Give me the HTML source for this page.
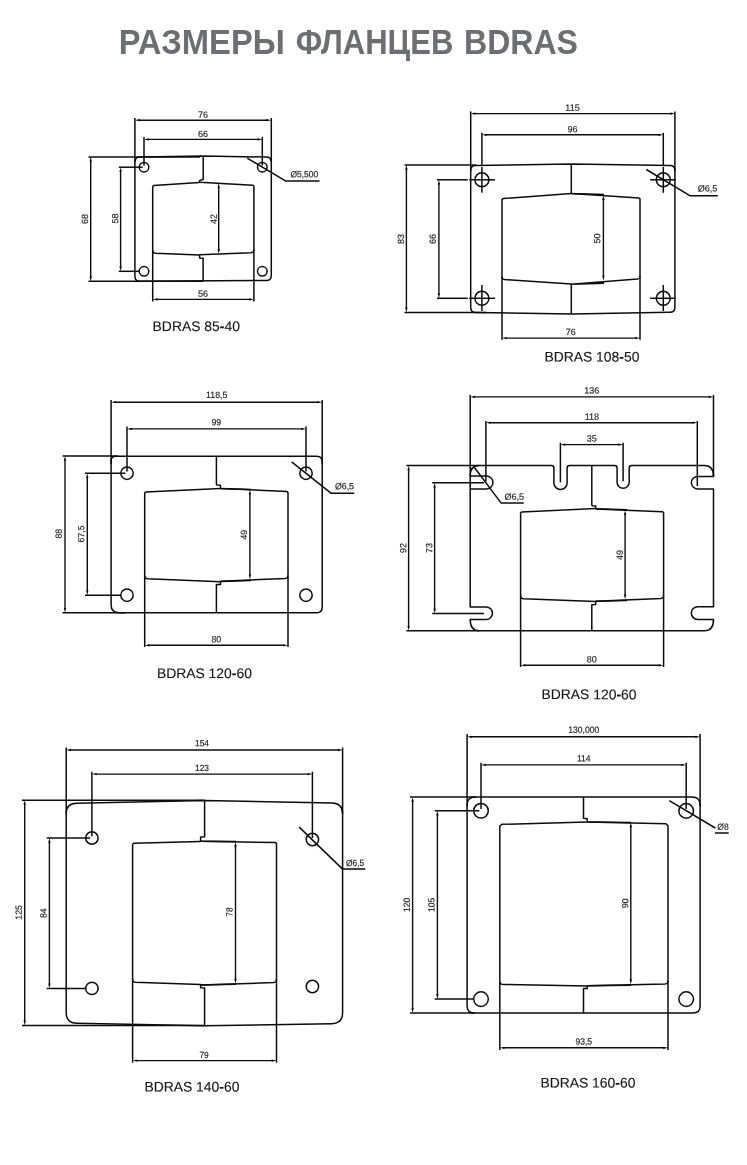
<!DOCTYPE html>
<html lang="ru">
<head>
<meta charset="utf-8">
<title>Размеры фланцев BDRAS</title>
<style>
html,body{margin:0;padding:0;background:#fff;}
body{width:747px;height:1165px;overflow:hidden;font-family:"Liberation Sans",sans-serif;}
svg{display:block;}
svg line,svg path,svg polyline,svg circle{fill:none;stroke:#0c0c0c;stroke-linecap:butt;stroke-linejoin:round;}
svg polygon.a{fill:#0c0c0c;stroke:none;}
svg text{font-family:"Liberation Sans",sans-serif;}
svg{will-change:transform;}
svg text.d{fill:#1c1c1c;stroke:#1c1c1c;stroke-width:0.15;}
svg text.l{fill:#141414;stroke:#141414;stroke-width:0.12;}
svg text.t{fill:#6d6e71;font-weight:bold;}
</style>
</head>
<body>
<svg width="747" height="1165" viewBox="0 0 747 1165">
<rect x="0" y="0" width="747" height="1165" fill="#ffffff" stroke="none"/>
<text class="t" y="54.2" font-size="35.4"><tspan x="118.8" textLength="166" lengthAdjust="spacingAndGlyphs">РАЗМЕРЫ</tspan> <tspan x="295.8" textLength="157.5" lengthAdjust="spacingAndGlyphs">ФЛАНЦЕВ</tspan> <tspan x="464" textLength="114" lengthAdjust="spacingAndGlyphs">BDRAS</tspan></text>
<g id="d1">
<path d="M134.9,162 Q134.9,156.9 140,156.9 L203.2,155.9 L266.3,157.1 Q271.3,157.1 271.3,162.1 L271.3,275.4 Q271.3,280.4 266.3,280.4 L140,281.3 Q134.9,281.3 134.9,276.3 Z" stroke-width="1.5"/>
<line x1="134.9" y1="118" x2="134.9" y2="162" stroke-width="1.5"/>
<line x1="271.3" y1="118" x2="271.3" y2="162" stroke-width="1.5"/>
<line x1="88.5" y1="156.9" x2="200" y2="156.9" stroke-width="1.5"/>
<line x1="88.5" y1="281.3" x2="203" y2="281.3" stroke-width="1.5"/>
<circle cx="144.0" cy="167.2" r="4.8" stroke-width="1.5"/>
<circle cx="262.3" cy="167.2" r="4.8" stroke-width="1.5"/>
<circle cx="144.0" cy="271.3" r="4.8" stroke-width="1.5"/>
<circle cx="262.3" cy="271.3" r="4.8" stroke-width="1.5"/>
<line x1="144.0" y1="137" x2="144.0" y2="165.6" stroke-width="1.5"/>
<line x1="262.3" y1="137" x2="262.3" y2="165.6" stroke-width="1.5"/>
<line x1="118.8" y1="167.2" x2="142.7" y2="167.2" stroke-width="1.5"/>
<line x1="118.8" y1="271.3" x2="139.4" y2="271.3" stroke-width="1.5"/>
<line x1="138.26000000000002" y1="120.2" x2="267.94" y2="120.2" stroke-width="1.4"/>
<polygon class="a" points="134.9,120.2 139.70,119.05 139.70,121.35"/>
<polygon class="a" points="271.3,120.2 266.50,121.35 266.50,119.05"/>
<line x1="147.36" y1="139.4" x2="258.94" y2="139.4" stroke-width="1.4"/>
<polygon class="a" points="144.0,139.4 148.80,138.25 148.80,140.55"/>
<polygon class="a" points="262.3,139.4 257.50,140.55 257.50,138.25"/>
<line x1="90.7" y1="160.16000000000003" x2="90.7" y2="277.94" stroke-width="1.4"/>
<polygon class="a" points="90.7,156.8 91.85,161.60 89.55,161.60"/>
<polygon class="a" points="90.7,281.3 89.55,276.50 91.85,276.50"/>
<line x1="120.6" y1="170.56" x2="120.6" y2="267.94" stroke-width="1.4"/>
<polygon class="a" points="120.6,167.2 121.75,172.00 119.45,172.00"/>
<polygon class="a" points="120.6,271.3 119.45,266.50 121.75,266.50"/>
<polyline points="152.7,301.4 152.7,186.5 153.7,185.5 199.5,182.4" stroke-width="1.5"/>
<polyline points="203.2,155.9 203.2,179.4 199.5,180.8 199.5,182.2 252.9,185.3 253.9,186.3 253.9,301.4" stroke-width="1.5"/>
<polyline points="152.7,250.2 153.2,252.6 155.3,253.28 199.6,255.1 199.6,258.0 203.1,258.2 203.1,281.2" stroke-width="1.5"/>
<polyline points="253.9,249.6 253.4,252.0 251.3,252.68 199.6,254.7" stroke-width="1.5"/>
<line x1="218.7" y1="186.66000000000003" x2="218.7" y2="250.44" stroke-width="1.4"/>
<polygon class="a" points="218.7,183.3 219.85,188.10 217.55,188.10"/>
<polygon class="a" points="218.7,253.8 217.55,249.00 219.85,249.00"/>
<line x1="156.06" y1="299.4" x2="250.54" y2="299.4" stroke-width="1.4"/>
<polygon class="a" points="152.7,299.4 157.50,298.25 157.50,300.55"/>
<polygon class="a" points="253.9,299.4 249.10,300.55 249.10,298.25"/>
<polyline points="247.2,158.2 285.4,180.9 319.5,180.9" stroke-width="1.5"/>
<text class="d" font-size="9.0" text-anchor="middle" transform="translate(203,117.7) rotate(0.04) scale(1.0,1)">76</text>
<text class="d" font-size="9.0" text-anchor="middle" transform="translate(203,136.9) rotate(0.04) scale(1.0,1)">66</text>
<text class="d" font-size="9.0" text-anchor="middle" transform="translate(203.1,296.8) rotate(0.04) scale(1.0,1)">56</text>
<text class="d" font-size="9.0" text-anchor="middle" transform="translate(84.70,219) rotate(-90.04) scale(1.0,1)" dy="0.36em">68</text>
<text class="d" font-size="9.0" text-anchor="middle" transform="translate(114.90,218.5) rotate(-90.04) scale(1.0,1)" dy="0.36em">58</text>
<text class="d" font-size="9.0" text-anchor="middle" transform="translate(213.40,218.9) rotate(-90.04) scale(1.0,1)" dy="0.36em">42</text>
<text class="d" font-size="9.0" text-anchor="start" transform="translate(290.4,177.3) rotate(0.04) scale(0.945,1)">Ø5,500</text>
<text class="l" font-size="13.9" transform="translate(152.6,331.0) rotate(0.03)">BDRAS 85<tspan font-weight="bold">-</tspan>40</text>
</g>
<g id="d2">
<path d="M470.7,170.4 Q470.7,165.4 475.7,165.4 L571.3,164.1 L669.9,165.4 Q674.9,165.4 674.9,170.4 L674.9,307.3 Q674.9,312.3 669.9,312.3 L571.3,314 L475.7,312.4 Q470.7,312.4 470.7,307.4 Z" stroke-width="1.5"/>
<line x1="470.7" y1="111.4" x2="470.7" y2="171" stroke-width="1.5"/>
<line x1="674.9" y1="111.4" x2="674.9" y2="171" stroke-width="1.5"/>
<line x1="404.5" y1="164.9" x2="476" y2="164.9" stroke-width="1.5"/>
<line x1="404.5" y1="312.4" x2="486" y2="312.4" stroke-width="1.5"/>
<circle cx="481.9" cy="179.8" r="7.0" stroke-width="1.5"/>
<circle cx="663.3" cy="179.8" r="7.0" stroke-width="1.5"/>
<circle cx="481.9" cy="298.3" r="7.0" stroke-width="1.5"/>
<circle cx="663.3" cy="298.3" r="7.0" stroke-width="1.5"/>
<line x1="481.9" y1="132.8" x2="481.9" y2="164.8" stroke-width="1.5"/>
<line x1="663.3" y1="132.8" x2="663.3" y2="165.2" stroke-width="1.5"/>
<line x1="481.9" y1="167" x2="481.9" y2="192.7" stroke-width="1.5"/>
<line x1="663.3" y1="167" x2="663.3" y2="192.8" stroke-width="1.5"/>
<line x1="481.9" y1="285" x2="481.9" y2="311" stroke-width="1.5"/>
<line x1="663.3" y1="285" x2="663.3" y2="311" stroke-width="1.5"/>
<line x1="437" y1="179.8" x2="467.8" y2="179.8" stroke-width="1.5"/>
<line x1="469.2" y1="179.8" x2="495.1" y2="179.8" stroke-width="1.5"/>
<line x1="437" y1="298.3" x2="467.8" y2="298.3" stroke-width="1.5"/>
<line x1="469.2" y1="298.3" x2="495.1" y2="298.3" stroke-width="1.5"/>
<line x1="650.1" y1="179.8" x2="675.8" y2="179.8" stroke-width="1.5"/>
<line x1="650.1" y1="298.3" x2="675.8" y2="298.3" stroke-width="1.5"/>
<line x1="474.06" y1="113.6" x2="671.54" y2="113.6" stroke-width="1.4"/>
<polygon class="a" points="470.7,113.6 475.50,112.45 475.50,114.75"/>
<polygon class="a" points="674.9,113.6 670.10,114.75 670.10,112.45"/>
<line x1="485.26" y1="134.8" x2="659.9399999999999" y2="134.8" stroke-width="1.4"/>
<polygon class="a" points="481.9,134.8 486.70,133.65 486.70,135.95"/>
<polygon class="a" points="663.3,134.8 658.50,135.95 658.50,133.65"/>
<line x1="406.4" y1="168.26000000000002" x2="406.4" y2="309.03999999999996" stroke-width="1.4"/>
<polygon class="a" points="406.4,164.9 407.55,169.70 405.25,169.70"/>
<polygon class="a" points="406.4,312.4 405.25,307.60 407.55,307.60"/>
<line x1="438.9" y1="183.16000000000003" x2="438.9" y2="294.94" stroke-width="1.4"/>
<polygon class="a" points="438.9,179.8 440.05,184.60 437.75,184.60"/>
<polygon class="a" points="438.9,298.3 437.75,293.50 440.05,293.50"/>
<polyline points="502,339.8 502,199.6 503,198.6 571.3,193.5" stroke-width="1.5"/>
<polyline points="571.3,164.1 571.3,193.6 604,194.4" stroke-width="1.5"/>
<polyline points="571.3,193.5 639,198 640,199 640,339.8" stroke-width="1.5"/>
<polyline points="502,276.5 502.5,278.9 504.6,279.58 571.3,283.9 571.3,314" stroke-width="1.5"/>
<polyline points="640,276.0 639.5,278.4 637.4,279.08 571.3,284.2 604,283.2" stroke-width="1.5"/>
<line x1="603.4" y1="198.56" x2="603.4" y2="277.24" stroke-width="1.4"/>
<polygon class="a" points="603.4,195.2 604.55,200.00 602.25,200.00"/>
<polygon class="a" points="603.4,280.6 602.25,275.80 604.55,275.80"/>
<line x1="505.36" y1="338.1" x2="636.64" y2="338.1" stroke-width="1.4"/>
<polygon class="a" points="502,338.1 506.80,336.95 506.80,339.25"/>
<polygon class="a" points="640,338.1 635.20,339.25 635.20,336.95"/>
<polyline points="646.3,169.5 689.8,195.7 717.8,195.7" stroke-width="1.5"/>
<text class="d" font-size="9.0" text-anchor="middle" transform="translate(572.5,110.7) rotate(0.04) scale(1.0,1)">115</text>
<text class="d" font-size="9.0" text-anchor="middle" transform="translate(572.5,132.3) rotate(0.04) scale(1.0,1)">96</text>
<text class="d" font-size="9.0" text-anchor="middle" transform="translate(570.8,334.9) rotate(0.04) scale(1.0,1)">76</text>
<text class="d" font-size="9.0" text-anchor="middle" transform="translate(400.70,238.9) rotate(-90.04) scale(1.0,1)" dy="0.36em">83</text>
<text class="d" font-size="9.0" text-anchor="middle" transform="translate(432.60,238.9) rotate(-90.04) scale(1.0,1)" dy="0.36em">66</text>
<text class="d" font-size="9.0" text-anchor="middle" transform="translate(597.00,238.4) rotate(-90.04) scale(1.0,1)" dy="0.36em">50</text>
<text class="d" font-size="9.0" text-anchor="start" transform="translate(697.8,191.4) rotate(0.04) scale(1.0,1)">Ø6,5</text>
<text class="l" font-size="13.9" transform="translate(544.4,361.5) rotate(0.03)">BDRAS 108<tspan font-weight="bold">-</tspan>50</text>
</g>
<g id="d3">
<path d="M111.1,460.9 Q111.1,456.2 115.8,456.2 L316.7,456.3 Q322.2,456.3 322.2,461.8 L322.2,607.3 Q322.2,612.8 316.7,612.8 L119.1,612.8 Q111.1,612.8 111.1,604.8 Z" stroke-width="1.5"/>
<line x1="111.1" y1="400" x2="111.1" y2="464" stroke-width="1.5"/>
<line x1="322.2" y1="400" x2="322.2" y2="464" stroke-width="1.5"/>
<line x1="62.5" y1="456.0" x2="118" y2="456.0" stroke-width="1.5"/>
<line x1="62.5" y1="612.8" x2="125" y2="612.8" stroke-width="1.5"/>
<circle cx="127.0" cy="473.2" r="6.2" stroke-width="1.5"/>
<circle cx="306" cy="473.2" r="6.2" stroke-width="1.5"/>
<circle cx="127.0" cy="595.2" r="6.2" stroke-width="1.5"/>
<circle cx="306" cy="595.2" r="6.2" stroke-width="1.5"/>
<line x1="127.0" y1="426.5" x2="127.0" y2="471.5" stroke-width="1.5"/>
<line x1="306" y1="426.5" x2="306" y2="471.5" stroke-width="1.5"/>
<line x1="85.0" y1="473.2" x2="125.4" y2="473.2" stroke-width="1.5"/>
<line x1="85.0" y1="595.2" x2="121" y2="595.2" stroke-width="1.5"/>
<line x1="114.46" y1="402.2" x2="318.84" y2="402.2" stroke-width="1.4"/>
<polygon class="a" points="111.1,402.2 115.90,401.05 115.90,403.35"/>
<polygon class="a" points="322.2,402.2 317.40,403.35 317.40,401.05"/>
<line x1="130.36" y1="428.9" x2="302.64" y2="428.9" stroke-width="1.4"/>
<polygon class="a" points="127.0,428.9 131.80,427.75 131.80,430.05"/>
<polygon class="a" points="306,428.9 301.20,430.05 301.20,427.75"/>
<line x1="65" y1="459.36" x2="65" y2="609.4399999999999" stroke-width="1.4"/>
<polygon class="a" points="65,456.0 66.15,460.80 63.85,460.80"/>
<polygon class="a" points="65,612.8 63.85,608.00 66.15,608.00"/>
<line x1="87.3" y1="476.56" x2="87.3" y2="591.84" stroke-width="1.4"/>
<polygon class="a" points="87.3,473.2 88.45,478.00 86.15,478.00"/>
<polygon class="a" points="87.3,595.2 86.15,590.40 88.45,590.40"/>
<polyline points="144.7,647 144.7,493 145.7,492 220.5,488.6" stroke-width="1.5"/>
<polyline points="216.4,456.4 216.4,484.3 217,485 220.5,485.2 220.5,488.4 287,491.6 288,492.6 288,647" stroke-width="1.5"/>
<polyline points="220.5,488.6 251,489.4" stroke-width="1.5"/>
<polyline points="144.7,575.6 145.2,578.0 147.3,578.68 220.5,581.8 220.5,584.4 216.4,584.6 216.4,612.8" stroke-width="1.5"/>
<polyline points="288,575.3 287.5,577.7 285.4,578.38 220.5,581.2" stroke-width="1.5"/>
<polyline points="220.5,581.4 251,580.4" stroke-width="1.5"/>
<line x1="249.9" y1="493.16" x2="249.9" y2="576.04" stroke-width="1.4"/>
<polygon class="a" points="249.9,489.8 251.05,494.60 248.75,494.60"/>
<polygon class="a" points="249.9,579.4 248.75,574.60 251.05,574.60"/>
<line x1="148.06" y1="645.3" x2="284.64" y2="645.3" stroke-width="1.4"/>
<polygon class="a" points="144.7,645.3 149.50,644.15 149.50,646.45"/>
<polygon class="a" points="288,645.3 283.20,646.45 283.20,644.15"/>
<polyline points="291.6,461.9 331.3,493.3 354.2,493.3" stroke-width="1.5"/>
<text class="d" font-size="9.0" text-anchor="middle" transform="translate(216.7,398) rotate(0.04) scale(0.98,1)">118,5</text>
<text class="d" font-size="9.0" text-anchor="middle" transform="translate(216.3,425.3) rotate(0.04) scale(0.98,1)">99</text>
<text class="d" font-size="9.0" text-anchor="middle" transform="translate(216.3,642.2) rotate(0.04) scale(0.98,1)">80</text>
<text class="d" font-size="9.0" text-anchor="middle" transform="translate(58.60,533.7) rotate(-90.04) scale(0.98,1)" dy="0.36em">88</text>
<text class="d" font-size="9.0" text-anchor="middle" transform="translate(81.00,534) rotate(-90.04) scale(0.98,1)" dy="0.36em">67,5</text>
<text class="d" font-size="9.0" text-anchor="middle" transform="translate(243.80,534.7) rotate(-90.04) scale(0.98,1)" dy="0.36em">49</text>
<text class="d" font-size="9.0" text-anchor="start" transform="translate(334.9,489.2) rotate(0.04) scale(0.98,1)">Ø6,5</text>
<text class="l" font-size="13.9" transform="translate(156.9,677.9) rotate(0.03)">BDRAS 120<tspan font-weight="bold">-</tspan>60</text>
</g>
<g id="d4">
<path d="M470.2,476.1 Q470.2,465.8 478,465.8 L479,465.5 L551.4,465.5 Q553.9,465.5 553.9,468 L553.9,483 A6.6,6.6 0 0 0 567.1,483 L567.1,468 Q567.1,465.5 569.6,465.5 L614.6,465.5 Q617.1,465.5 617.1,468 L617.1,482.3 A6.05,6.05 0 0 0 629.2,482.3 L629.2,468 Q629.2,465.5 631.7,465.5 L704.6,465.5 Q713.5,465.5 713.5,476.4 L697.6,476.4 A6.25,6.25 0 0 0 697.6,488.9 L713.5,488.9 L713.5,606.7 L697.7,606.7 A6.4,6.4 0 0 0 697.7,619.5 L713.5,619.5 Q713.5,630.8 704.6,630.8 L479.2,630.8 Q470.2,630.8 470.2,619.5 L486.2,619.5 A6.25,6.25 0 0 0 486.2,607 L470.2,607 L470.2,488.9 L486.6,488.9 A6.4,6.4 0 0 0 486.5,476.1 Z" stroke-width="1.5"/>
<line x1="470.2" y1="395" x2="470.2" y2="489" stroke-width="1.5"/>
<line x1="713.5" y1="395" x2="713.5" y2="476.4" stroke-width="1.5"/>
<line x1="406.4" y1="465.5" x2="479" y2="465.5" stroke-width="1.5"/>
<line x1="406.4" y1="630.8" x2="479.2" y2="630.8" stroke-width="1.5"/>
<line x1="485.9" y1="421" x2="485.9" y2="481.8" stroke-width="1.5"/>
<line x1="697.3" y1="421" x2="697.3" y2="486" stroke-width="1.5"/>
<line x1="432.2" y1="482.7" x2="484.1" y2="482.7" stroke-width="1.5"/>
<line x1="432.2" y1="613.5" x2="484" y2="613.5" stroke-width="1.5"/>
<line x1="560.4" y1="442.7" x2="560.4" y2="482.4" stroke-width="1.5"/>
<line x1="623.1" y1="442.7" x2="623.1" y2="481.2" stroke-width="1.5"/>
<line x1="473.56" y1="396.9" x2="710.14" y2="396.9" stroke-width="1.4"/>
<polygon class="a" points="470.2,396.9 475.00,395.75 475.00,398.05"/>
<polygon class="a" points="713.5,396.9 708.70,398.05 708.70,395.75"/>
<line x1="489.26" y1="422.7" x2="693.9399999999999" y2="422.7" stroke-width="1.4"/>
<polygon class="a" points="485.9,422.7 490.70,421.55 490.70,423.85"/>
<polygon class="a" points="697.3,422.7 692.50,423.85 692.50,421.55"/>
<line x1="563.76" y1="444.6" x2="619.74" y2="444.6" stroke-width="1.4"/>
<polygon class="a" points="560.4,444.6 565.20,443.45 565.20,445.75"/>
<polygon class="a" points="623.1,444.6 618.30,445.75 618.30,443.45"/>
<line x1="408.6" y1="468.86" x2="408.6" y2="627.4399999999999" stroke-width="1.4"/>
<polygon class="a" points="408.6,465.5 409.75,470.30 407.45,470.30"/>
<polygon class="a" points="408.6,630.8 407.45,626.00 409.75,626.00"/>
<line x1="434.6" y1="486.06" x2="434.6" y2="610.14" stroke-width="1.4"/>
<polygon class="a" points="434.6,482.7 435.75,487.50 433.45,487.50"/>
<polygon class="a" points="434.6,613.5 433.45,608.70 435.75,608.70"/>
<polyline points="520.6,667 520.6,513 521.6,512 595.7,508.6" stroke-width="1.5"/>
<polyline points="591.8,465.5 591.8,505 592.4,505.7 595.7,505.9 595.7,508.9 662.6,511.8 663.6,512.8 663.6,667" stroke-width="1.5"/>
<polyline points="595.7,508.8 627,509.8" stroke-width="1.5"/>
<polyline points="520.6,595.6 521.1,598.0 523.2,598.68 595.7,601.5 595.7,604.6 591.8,604.7 591.8,630.8" stroke-width="1.5"/>
<polyline points="663.6,595.3 663.1,597.7 661.0,598.38 595.7,601.3" stroke-width="1.5"/>
<polyline points="595.7,601.3 627,600.4" stroke-width="1.5"/>
<line x1="625.1" y1="513.56" x2="625.1" y2="596.04" stroke-width="1.4"/>
<polygon class="a" points="625.1,510.2 626.25,515.00 623.95,515.00"/>
<polygon class="a" points="625.1,599.4 623.95,594.60 626.25,594.60"/>
<line x1="523.96" y1="665.3" x2="660.24" y2="665.3" stroke-width="1.4"/>
<polygon class="a" points="520.6,665.3 525.40,664.15 525.40,666.45"/>
<polygon class="a" points="663.6,665.3 658.80,666.45 658.80,664.15"/>
<polyline points="473.9,466.8 501.0,502.9 523.7,502.9" stroke-width="1.5"/>
<text class="d" font-size="9.0" text-anchor="middle" transform="translate(591.8,393.6) rotate(0.04) scale(1.0,1)">136</text>
<text class="d" font-size="9.0" text-anchor="middle" transform="translate(591.8,419.8) rotate(0.04) scale(1.0,1)">118</text>
<text class="d" font-size="9.0" text-anchor="middle" transform="translate(591.8,441.4) rotate(0.04) scale(1.0,1)">35</text>
<text class="d" font-size="9.0" text-anchor="middle" transform="translate(591.8,662.2) rotate(0.04) scale(1.0,1)">80</text>
<text class="d" font-size="9.0" text-anchor="middle" transform="translate(403.00,548) rotate(-90.04) scale(1.0,1)" dy="0.36em">92</text>
<text class="d" font-size="9.0" text-anchor="middle" transform="translate(429.00,548) rotate(-90.04) scale(1.0,1)" dy="0.36em">73</text>
<text class="d" font-size="9.0" text-anchor="middle" transform="translate(619.50,555) rotate(-90.04) scale(1.0,1)" dy="0.36em">49</text>
<text class="d" font-size="9.0" text-anchor="start" transform="translate(504.5,499.8) rotate(0.04) scale(1.0,1)">Ø6,5</text>
<text class="l" font-size="13.9" transform="translate(541.5,699.1) rotate(0.03)">BDRAS 120<tspan font-weight="bold">-</tspan>60</text>
</g>
<g id="d5">
<path d="M66.2,813.7 Q66.2,803.3 76.5,803.2 L204.6,800.4 L332,803 Q342.6,803.2 342.6,813.7 L342.6,1012.4 Q342.6,1023.5 332,1023.7 L204.6,1025.8 L76.5,1023.3 Q66.2,1023.1 66.2,1012.4 Z" stroke-width="1.5"/>
<line x1="66.2" y1="747.6" x2="66.2" y2="814" stroke-width="1.5"/>
<line x1="342.6" y1="747.6" x2="342.6" y2="814" stroke-width="1.5"/>
<line x1="22" y1="800.3" x2="204.6" y2="800.3" stroke-width="1.5"/>
<line x1="22" y1="1025.4" x2="204.6" y2="1025.6" stroke-width="1.5"/>
<circle cx="91.9" cy="838.0" r="6.2" stroke-width="1.5"/>
<circle cx="312.4" cy="839.5" r="6.2" stroke-width="1.5"/>
<circle cx="91.9" cy="988.4" r="6.2" stroke-width="1.5"/>
<circle cx="312.4" cy="986.5" r="6.2" stroke-width="1.5"/>
<line x1="91.9" y1="771.7" x2="91.9" y2="836.2" stroke-width="1.5"/>
<line x1="312.4" y1="771.7" x2="312.4" y2="838" stroke-width="1.5"/>
<line x1="46.7" y1="837.9" x2="90.1" y2="837.9" stroke-width="1.5"/>
<line x1="46.7" y1="988.4" x2="86" y2="988.4" stroke-width="1.5"/>
<line x1="69.56" y1="750" x2="339.24" y2="750" stroke-width="1.4"/>
<polygon class="a" points="66.2,750 71.00,748.85 71.00,751.15"/>
<polygon class="a" points="342.6,750 337.80,751.15 337.80,748.85"/>
<line x1="95.26" y1="774.1" x2="309.03999999999996" y2="774.1" stroke-width="1.4"/>
<polygon class="a" points="91.9,774.1 96.70,772.95 96.70,775.25"/>
<polygon class="a" points="312.4,774.1 307.60,775.25 307.60,772.95"/>
<line x1="24.7" y1="803.66" x2="24.7" y2="1022.0400000000001" stroke-width="1.4"/>
<polygon class="a" points="24.7,800.3 25.85,805.10 23.55,805.10"/>
<polygon class="a" points="24.7,1025.4 23.55,1020.60 25.85,1020.60"/>
<line x1="49.4" y1="841.26" x2="49.4" y2="985.04" stroke-width="1.4"/>
<polygon class="a" points="49.4,837.9 50.55,842.70 48.25,842.70"/>
<polygon class="a" points="49.4,988.4 48.25,983.60 50.55,983.60"/>
<polyline points="132.6,1062.8 132.6,844.2 133.6,843.2 200.6,841.4" stroke-width="1.5"/>
<polyline points="204.6,800.4 204.6,836.8 200.6,837 200.6,841.2 275.5,842.6 276.5,843.6 276.5,1062.8" stroke-width="1.5"/>
<polyline points="200.6,841.3 236,841.6" stroke-width="1.5"/>
<polyline points="132.6,979.2 133.1,981.6 135.2,982.28 200.6,984.4 200.6,987.8 204.6,987.9 204.6,1025.8" stroke-width="1.5"/>
<polyline points="276.5,979.5 276.0,981.9 273.9,982.58 200.6,984.9" stroke-width="1.5"/>
<polyline points="200.6,984.9 236,984.3" stroke-width="1.5"/>
<line x1="235.5" y1="845.36" x2="235.5" y2="980.14" stroke-width="1.4"/>
<polygon class="a" points="235.5,842 236.65,846.80 234.35,846.80"/>
<polygon class="a" points="235.5,983.5 234.35,978.70 236.65,978.70"/>
<line x1="135.96" y1="1060.6" x2="273.14" y2="1060.6" stroke-width="1.4"/>
<polygon class="a" points="132.6,1060.6 137.40,1059.45 137.40,1061.75"/>
<polygon class="a" points="276.5,1060.6 271.70,1061.75 271.70,1059.45"/>
<polyline points="299.2,827.1 342.6,869.1 365.4,869.1" stroke-width="1.5"/>
<text class="d" font-size="9.0" text-anchor="middle" transform="translate(202,746.3) rotate(0.04) scale(0.93,1)">154</text>
<text class="d" font-size="9.0" text-anchor="middle" transform="translate(202,771.1) rotate(0.04) scale(0.93,1)">123</text>
<text class="d" font-size="9.0" text-anchor="middle" transform="translate(204.1,1058) rotate(0.04) scale(0.93,1)">79</text>
<text class="d" font-size="9.0" text-anchor="middle" transform="translate(18.50,912.4) rotate(-90.04) scale(0.98,1)" dy="0.36em">125</text>
<text class="d" font-size="9.0" text-anchor="middle" transform="translate(43.20,913.2) rotate(-90.04) scale(0.98,1)" dy="0.36em">84</text>
<text class="d" font-size="9.0" text-anchor="middle" transform="translate(229.30,912) rotate(-90.04) scale(0.93,1)" dy="0.36em">78</text>
<text class="d" font-size="9.0" text-anchor="start" transform="translate(346.1,865.9) rotate(0.04) scale(0.93,1)">Ø6,5</text>
<text class="l" font-size="13.9" transform="translate(144.4,1091.5) rotate(0.03)">BDRAS 140<tspan font-weight="bold">-</tspan>60</text>
</g>
<g id="d6">
<path d="M467.1,805 Q467.1,797 475.1,797 L692.1,797 Q700.1,797 700.1,805 L700.1,1006 Q700.1,1013 693.1,1013 L474.1,1013 Q467.1,1013 467.1,1006 Z" stroke-width="1.5"/>
<line x1="467.1" y1="734.1" x2="467.1" y2="806" stroke-width="1.5"/>
<line x1="700.1" y1="734.1" x2="700.1" y2="806" stroke-width="1.5"/>
<line x1="410.0" y1="797" x2="476" y2="797" stroke-width="1.5"/>
<line x1="410.0" y1="1013" x2="475" y2="1013" stroke-width="1.5"/>
<circle cx="481" cy="810.8" r="7.3" stroke-width="1.5"/>
<circle cx="686.2" cy="810.9" r="7.3" stroke-width="1.5"/>
<circle cx="481" cy="999.1" r="7.3" stroke-width="1.5"/>
<circle cx="686.2" cy="999.1" r="7.3" stroke-width="1.5"/>
<line x1="481" y1="762.7" x2="481" y2="809" stroke-width="1.5"/>
<line x1="686.2" y1="762.7" x2="686.2" y2="809" stroke-width="1.5"/>
<line x1="434.7" y1="810.8" x2="479.4" y2="810.8" stroke-width="1.5"/>
<line x1="434.7" y1="999.1" x2="474" y2="999.1" stroke-width="1.5"/>
<line x1="470.46000000000004" y1="736.8" x2="696.74" y2="736.8" stroke-width="1.4"/>
<polygon class="a" points="467.1,736.8 471.90,735.65 471.90,737.95"/>
<polygon class="a" points="700.1,736.8 695.30,737.95 695.30,735.65"/>
<line x1="484.36" y1="764.9" x2="682.84" y2="764.9" stroke-width="1.4"/>
<polygon class="a" points="481,764.9 485.80,763.75 485.80,766.05"/>
<polygon class="a" points="686.2,764.9 681.40,766.05 681.40,763.75"/>
<line x1="412.6" y1="800.36" x2="412.6" y2="1009.64" stroke-width="1.4"/>
<polygon class="a" points="412.6,797 413.75,801.80 411.45,801.80"/>
<polygon class="a" points="412.6,1013 411.45,1008.20 413.75,1008.20"/>
<line x1="437.4" y1="814.16" x2="437.4" y2="995.74" stroke-width="1.4"/>
<polygon class="a" points="437.4,810.8 438.55,815.60 436.25,815.60"/>
<polygon class="a" points="437.4,999.1 436.25,994.30 438.55,994.30"/>
<polyline points="499.8,1050 499.8,826.3 501.8,824.3 587.2,822.1" stroke-width="1.5"/>
<polyline points="583.5,797 583.5,818.3 587.2,818.7 587.2,821.9 666,823.8 668,825.8 668,1050" stroke-width="1.5"/>
<polyline points="587.2,822 631,822.6" stroke-width="1.5"/>
<polyline points="499.8,981.3 500.3,983.7 502.4,984.38 587.2,986 587.2,988.4 583.5,988.5 583.5,1013" stroke-width="1.5"/>
<polyline points="668,980.8 667.5,983.2 665.4,983.88 587.2,985.7" stroke-width="1.5"/>
<polyline points="587.2,985.8 631,985.2" stroke-width="1.5"/>
<line x1="630.8" y1="825.86" x2="630.8" y2="980.9399999999999" stroke-width="1.4"/>
<polygon class="a" points="630.8,822.5 631.95,827.30 629.65,827.30"/>
<polygon class="a" points="630.8,984.3 629.65,979.50 631.95,979.50"/>
<line x1="503.16" y1="1047.8" x2="664.64" y2="1047.8" stroke-width="1.4"/>
<polygon class="a" points="499.8,1047.8 504.60,1046.65 504.60,1048.95"/>
<polygon class="a" points="668,1047.8 663.20,1048.95 663.20,1046.65"/>
<line x1="669.3" y1="800.7" x2="715.3" y2="828" stroke-width="1.5"/>
<line x1="715" y1="833" x2="728.7" y2="833" stroke-width="1.5"/>
<text class="d" font-size="9.0" text-anchor="middle" transform="translate(583.7,732.8) rotate(0.04) scale(0.95,1)">130,000</text>
<text class="d" font-size="9.0" text-anchor="middle" transform="translate(583.7,761.4) rotate(0.04) scale(0.95,1)">114</text>
<text class="d" font-size="9.0" text-anchor="middle" transform="translate(583.7,1044.6) rotate(0.04) scale(0.95,1)">93,5</text>
<text class="d" font-size="9.0" text-anchor="middle" transform="translate(406.60,905) rotate(-90.04) scale(0.95,1)" dy="0.36em">120</text>
<text class="d" font-size="9.0" text-anchor="middle" transform="translate(431.20,905) rotate(-90.04) scale(0.95,1)" dy="0.36em">105</text>
<text class="d" font-size="9.0" text-anchor="middle" transform="translate(624.90,903.3) rotate(-90.04) scale(0.95,1)" dy="0.36em">90</text>
<text class="d" font-size="9.0" text-anchor="start" transform="translate(717.3,829.8) rotate(0.04) scale(0.95,1)">Ø8</text>
<text class="l" font-size="13.9" transform="translate(540.4,1087.5) rotate(0.03)">BDRAS 160<tspan font-weight="bold">-</tspan>60</text>
</g>
</svg>
</body>
</html>
